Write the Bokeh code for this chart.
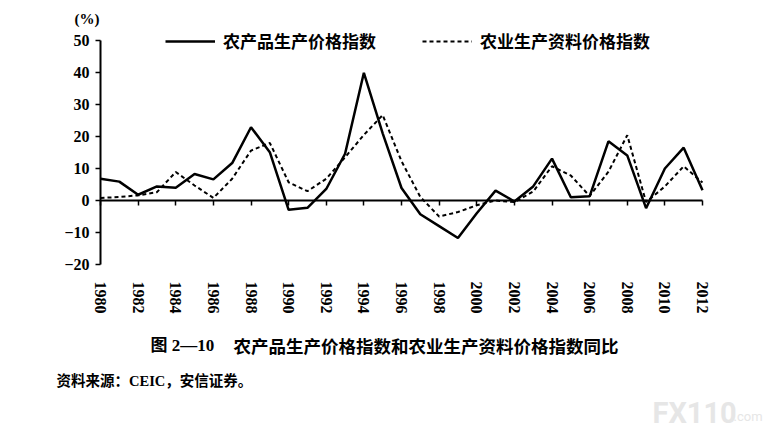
import math
from bokeh.plotting import figure
from bokeh.models import (Range1d, LinearAxis, FixedTicker, Legend, LegendItem,
                          Label, ColumnDataSource)
from bokeh.embed import file_html
from bokeh.resources import INLINE

years = list(range(1980, 2013))
farm_products = [6.8, 5.9, 1.8, 4.4, 4.0, 8.3, 6.6, 11.7, 22.9, 15.1,
                 -2.9, -2.3, 3.6, 14.6, 39.9, 21.0, 3.9, -4.3, -8.0, -11.7,
                 -4.0, 3.1, -0.3, 4.4, 13.1, 1.0, 1.3, 18.5, 14.1, -2.4,
                 10.0, 16.5, 3.2]
farm_inputs = [0.8, 1.1, 1.6, 2.6, 8.9, 4.7, 0.8, 6.8, 15.6, 18.0,
               5.7, 2.9, 6.8, 13.5, 20.5, 26.7, 12.3, 1.1, -5.0, -3.6,
               -1.5, 0.0, -0.5, 2.8, 10.7, 7.8, 1.4, 9.0, 20.4, -0.5,
               4.4, 10.7, 5.6]
tick_years = list(range(1980, 2013, 2))
y_ticks = [-20, -10, 0, 10, 20, 30, 40, 50]
legend_labels = ["农产品生产价格指数", "农业生产资料价格指数"]
unit_text = "(%)"
caption_number = "图 2—10"
caption_title = "农产品生产价格指数和农业生产资料价格指数同比"
source_note = "资料来源：CEIC，安信证券。"

# ---- layout (pixels) ----
W, H = 766, 431
X_LEFT_PX = 100            # pixel of first year
PX_PER_YEAR = 602 / 32
Y_ZERO_PX = 200            # pixel of value 0
PX_PER_UNIT = 3.2

x0, x1 = years[0], years[-1]
ymin, ymax = min(y_ticks), max(y_ticks)

src = ColumnDataSource(dict(year=years, prod=farm_products, inp=farm_inputs))

p = figure(width=W, height=H, output_backend="svg", toolbar_location=None,
           x_range=Range1d(x0 - X_LEFT_PX / PX_PER_YEAR,
                           x0 + (W - X_LEFT_PX) / PX_PER_YEAR),
           y_range=Range1d(-(H - Y_ZERO_PX) / PX_PER_UNIT,
                           Y_ZERO_PX / PX_PER_UNIT),
           x_axis_location=None, y_axis_location=None,
           min_border=0, background_fill_color="white",
           border_fill_color="white")
p.outline_line_color = None
p.grid.visible = False

serif = "Liberation Serif"
cjk = "Noto Sans CJK SC"
mixed = "'Liberation Serif', 'Noto Sans CJK SC'"

# y axis at first year
ya = LinearAxis(fixed_location=x0, bounds=(ymin, ymax),
                ticker=FixedTicker(ticks=y_ticks),
                major_label_overrides={t: ("\u2212" + str(-t) if t < 0 else str(t))
                                       for t in y_ticks})
ya.axis_line_width = 2
ya.axis_line_color = "black"
ya.major_tick_out = 5
ya.major_tick_in = 0
ya.major_tick_line_width = 1.5
ya.minor_tick_line_color = None
ya.major_label_standoff = 6
ya.major_label_text_font = serif
ya.major_label_text_font_style = "bold"
ya.major_label_text_font_size = "16px"
ya.major_label_text_color = "black"
p.add_layout(ya, "left")

# zero line axis with ticks
zero_axis = LinearAxis(fixed_location=0, bounds=(x0, x1),
                       ticker=FixedTicker(ticks=tick_years),
                       major_label_overrides={t: "" for t in tick_years})
zero_axis.axis_line_width = 2
zero_axis.axis_line_color = "black"
zero_axis.major_tick_out = 5
zero_axis.major_tick_in = 0
zero_axis.major_tick_line_width = 1.5
zero_axis.minor_tick_line_color = None
p.add_layout(zero_axis, "below")

# year labels below the lowest value
xa = LinearAxis(fixed_location=ymin, bounds=(x0, x1),
                ticker=FixedTicker(ticks=tick_years))
xa.axis_line_color = None
xa.major_tick_line_color = None
xa.minor_tick_line_color = None
xa.major_tick_out = 0
xa.major_tick_in = 0
xa.major_label_orientation = -math.pi / 2
xa.major_label_standoff = 17
xa.major_label_text_font = serif
xa.major_label_text_font_style = "bold"
xa.major_label_text_font_size = "16px"
xa.major_label_text_color = "black"
p.add_layout(xa, "below")

r1 = p.line("year", "prod", source=src, line_color="black", line_width=2.5)
r2 = p.line("year", "inp", source=src, line_color="black", line_width=2,
            line_dash="4 3")

legend = Legend(items=[LegendItem(label=legend_labels[0], renderers=[r1]),
                       LegendItem(label=legend_labels[1], renderers=[r2])],
                orientation="horizontal", location=(165, H - 53),
                border_line_color=None, background_fill_alpha=0,
                padding=0, margin=0, spacing=46, glyph_width=50,
                label_standoff=8, label_text_font=cjk,
                label_text_font_style="bold", label_text_font_size="17px",
                label_text_color="black")
p.add_layout(legend)

p.add_layout(Label(x=74, y=H - 18, x_units="screen", y_units="screen",
                   text=unit_text, text_font=serif, text_font_style="bold",
                   text_font_size="15px", text_align="left",
                   text_baseline="middle", text_color="black"))
p.add_layout(Label(x=150, y=H - 345, x_units="screen", y_units="screen",
                   text=caption_number, text_font=mixed, text_font_style="bold",
                   text_font_size="17px", text_align="left",
                   text_baseline="middle", text_color="black"))
p.add_layout(Label(x=233, y=H - 345, x_units="screen", y_units="screen",
                   text=caption_title, text_font=cjk, text_font_style="bold",
                   text_font_size="17.5px", text_align="left",
                   text_baseline="middle", text_color="black"))
p.add_layout(Label(x=56, y=H - 380, x_units="screen", y_units="screen",
                   text=source_note, text_font=mixed, text_font_style="bold",
                   text_font_size="14.5px", text_align="left",
                   text_baseline="middle", text_color="black"))
p.add_layout(Label(x=652, y=H - 412, x_units="screen", y_units="screen",
                   text="FX110", text_font="Roboto", text_font_style="bold",
                   text_font_size="29px", text_align="left",
                   text_baseline="middle", text_color="#e6e6e6"))
p.add_layout(Label(x=733, y=H - 416, x_units="screen", y_units="screen",
                   text=".com", text_font="Roboto",
                   text_font_size="13px", text_align="left",
                   text_baseline="middle", text_color="#e6e6e6"))

open("out.html", "w").write(file_html(p, INLINE))
